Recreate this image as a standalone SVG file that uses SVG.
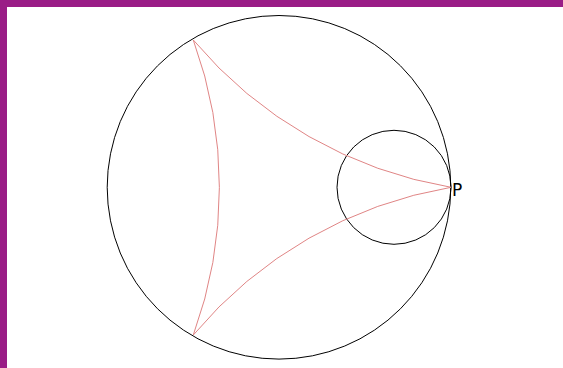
<svg xmlns="http://www.w3.org/2000/svg" width="563" height="368" viewBox="0 0 563 368">
<style>
.frame{fill:#9a1c86}
.circ{fill:none;stroke:#000;stroke-width:1}
.geo{fill:none;stroke:#e08585;stroke-width:1}
.lbl{font-family:"DejaVu Sans",sans-serif;font-size:17px;fill:#000}
</style>
<rect x="0" y="0" width="563" height="368" fill="#fff"/>
<rect class="frame" x="0" y="0" width="563" height="7"/>
<rect class="frame" x="0" y="0" width="7" height="368"/>
<g id="disk"><circle class="circ" cx="279" cy="187.3" r="171.8"/></g>
<g id="horocycle"><circle class="circ" cx="394" cy="187.3" r="57"/></g>
<g id="connectors">
<path class="geo" d="M451,187.3 A430,430 0 0 1 193.3,40"/>
<path class="geo" d="M193.3,40 A430,430 0 0 1 193.3,335"/>
<path class="geo" d="M193.3,335 A430,430 0 0 1 451,187.3"/>
</g>
<g id="P"><text class="lbl" x="452" y="196">P</text></g>
</svg>
